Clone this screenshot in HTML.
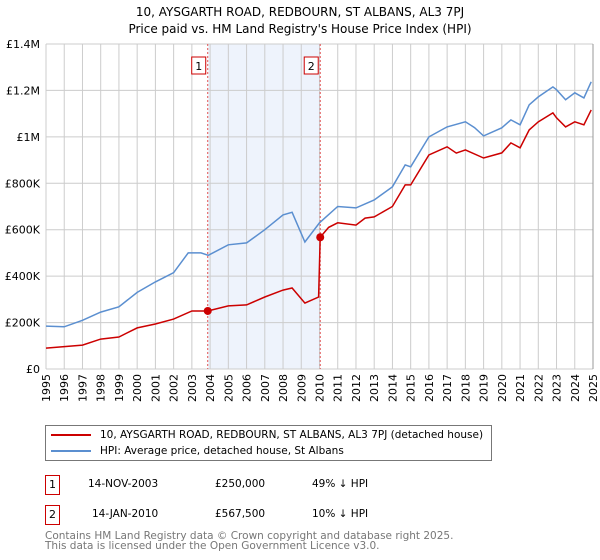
<!DOCTYPE html>
<html><head><meta charset="utf-8"><style>
body{margin:0;background:#fff;font-family:"DejaVu Sans","Liberation Sans",sans-serif;}
#wrap{position:relative;width:600px;height:560px;overflow:hidden}
.t{position:absolute;font-size:11px;color:#000;white-space:nowrap}
</style></head><body>
<div id="wrap">
<svg id="chart" width="600" height="420" style="position:absolute;left:0;top:0" font-family="DejaVu Sans, Liberation Sans, sans-serif">
<text x="300" y="16" text-anchor="middle" font-size="12">10, AYSGARTH ROAD, REDBOURN, ST ALBANS, AL3 7PJ</text>
<text x="300" y="33" text-anchor="middle" font-size="12">Price paid vs. HM Land Registry's House Price Index (HPI)</text>
<g id="grid"></g><g id="marks"></g><g id="axes"></g>
</svg>
<div style="position:absolute;left:45px;top:425px;width:447px;height:36px;border:1px solid #777;box-sizing:border-box">
  <div style="position:absolute;left:5px;top:3px;font-size:10.5px;white-space:nowrap"><span style="display:inline-block;width:40px;height:2px;background:#cc0000;vertical-align:middle;margin-right:9px"></span>10, AYSGARTH ROAD, REDBOURN, ST ALBANS, AL3 7PJ (detached house)</div>
  <div style="position:absolute;left:5px;top:19px;font-size:10.5px;white-space:nowrap"><span style="display:inline-block;width:40px;height:2px;background:#5b8fd0;vertical-align:middle;margin-right:9px"></span>HPI: Average price, detached house, St Albans</div>
</div>
<div style="position:absolute;left:45px;top:475px;width:15px;height:20px;border:1px solid #c00;box-sizing:border-box;font-size:11px;text-align:center;line-height:18px">1</div>
<div class="t" style="left:88px;top:478px;font-size:10.5px">14-NOV-2003</div>
<div class="t" style="left:215px;top:478px;font-size:10.5px">£250,000</div>
<div class="t" style="left:312px;top:478px;font-size:10.5px">49% ↓ HPI</div>
<div style="position:absolute;left:45px;top:505px;width:15px;height:20px;border:1px solid #c00;box-sizing:border-box;font-size:11px;text-align:center;line-height:18px">2</div>
<div class="t" style="left:92px;top:508px;font-size:10.5px">14-JAN-2010</div>
<div class="t" style="left:215px;top:508px;font-size:10.5px">£567,500</div>
<div class="t" style="left:312px;top:508px;font-size:10.5px">10% ↓ HPI</div>
<div class="t" style="left:45px;top:531px;color:#777;line-height:10px;font-size:10.5px">Contains HM Land Registry data © Crown copyright and database right 2025.<br>This data is licensed under the Open Government Licence v3.0.</div>
</div>
<script>
const hpiDates=[1995,1996,1997,1998,1999,2000,2001,2002,2002.8,2003.5,2003.9,2005,2006,2007,2008,2008.5,2009.2,2010,2011,2012,2013,2014,2014.7,2015,2016,2017,2018,2018.5,2019,2020,2020.5,2021,2021.5,2022,2022.8,2023,2023.5,2024,2024.5,2024.9];
const hpiValues=[185,182,210,245,268,330,375,415,500,500,490,535,543,600,664,675,547,630,700,694,728,785,879,871,1000,1043,1065,1040,1004,1039,1073,1052,1138,1172,1215,1203,1160,1190,1168,1237];
const propDates=[1995,1997,1998,1999,2000,2001,2002,2003,2003.87,2005,2006,2007,2008,2008.5,2009.2,2009.95,2010.04,2010.5,2011,2012,2012.5,2013,2014,2014.7,2015,2016,2017,2017.5,2018,2019,2020,2020.5,2021,2021.5,2022,2022.8,2023,2023.5,2024,2024.5,2024.9];
const propValues=[90,103,129,138,177,194,215,250,250,272,276,310,340,349,284,310,567.5,610,630,620,650,655,700,793,793,922,957,930,944,909,931,974,953,1030,1065,1103,1082,1043,1065,1052,1116];
const saleDates=[2003.87,2010.04];
const salePrices=[250,567.5];
const saleLabels=["1","2"];
const yTicks=[0,200,400,600,800,1000,1200,1400];
const yTickLabels=["£0","£200K","£400K","£600K","£800K","£1M","£1.2M","£1.4M"];
const years=[];for(let y=1995;y<=2025;y++)years.push(y);

const X0=46,X1=593,Y0=369,Y1=44;
const xs=d=>X0+(d-1995)/(2025-1995)*(X1-X0);
const ys=v=>Y0-v/1400*(Y0-Y1);
const NS="http://www.w3.org/2000/svg";
function mk(p,tag,at){const e=document.createElementNS(NS,tag);for(const k in at)e.setAttribute(k,at[k]);p.appendChild(e);return e;}
const grid=document.getElementById('grid'),marks=document.getElementById('marks'),axes=document.getElementById('axes');
let r=mk(grid,'rect',{x:xs(saleDates[0]),y:Y1,width:xs(saleDates[1])-xs(saleDates[0]),height:Y0-Y1,fill:'#eef3fc'});


years.forEach(y=>{const l=mk(grid,'line',{x1:xs(y),x2:xs(y),y1:Y1,y2:Y0,stroke:'#cccccc','stroke-width':1});


const tx=xs(y)+4,ty=374;
const t=mk(axes,'text',{x:tx,y:ty,'text-anchor':'end','font-size':11,transform:'rotate(-90 '+tx+' '+ty+')'});t.textContent=y;

});
yTicks.forEach((v,i)=>{const l=mk(grid,'line',{x1:X0,x2:X1,y1:ys(v),y2:ys(v),stroke:'#cccccc','stroke-width':1});


const t=mk(axes,'text',{x:40,y:ys(v)+4,'text-anchor':'end','font-size':11});t.textContent=yTickLabels[i];

});
saleDates.forEach((d,i)=>{const l=mk(marks,'line',{x1:xs(d),x2:xs(d),y1:Y1,y2:Y0,stroke:'#e05050','stroke-width':1,'stroke-dasharray':'2,2'});


const b=mk(marks,'rect',{x:xs(d)-16,y:57,width:14,height:17,fill:'#fff',stroke:'#c00'});


const t=mk(marks,'text',{x:xs(d)-9,y:70,'text-anchor':'middle','font-size':11});t.textContent=saleLabels[i];

});
const pathOf=(ds,vs)=>ds.map((d,i)=>(i?'L':'M')+xs(d).toFixed(1)+','+ys(vs[i]).toFixed(1)).join('');
let p=mk(marks,'path',{d:pathOf(hpiDates,hpiValues),fill:'none',stroke:'#5b8fd0','stroke-width':1.5});


p=mk(marks,'path',{d:pathOf(propDates,propValues),fill:'none',stroke:'#cc0000','stroke-width':1.5});


saleDates.forEach((d,i)=>{const c=mk(marks,'circle',{cx:xs(d),cy:ys(salePrices[i]),r:4,fill:'#cc0000'});

});
const ax=mk(axes,'line',{x1:X1,x2:X1,y1:Y1,y2:Y0,stroke:'#999','stroke-width':1});


</script>
</body></html>
